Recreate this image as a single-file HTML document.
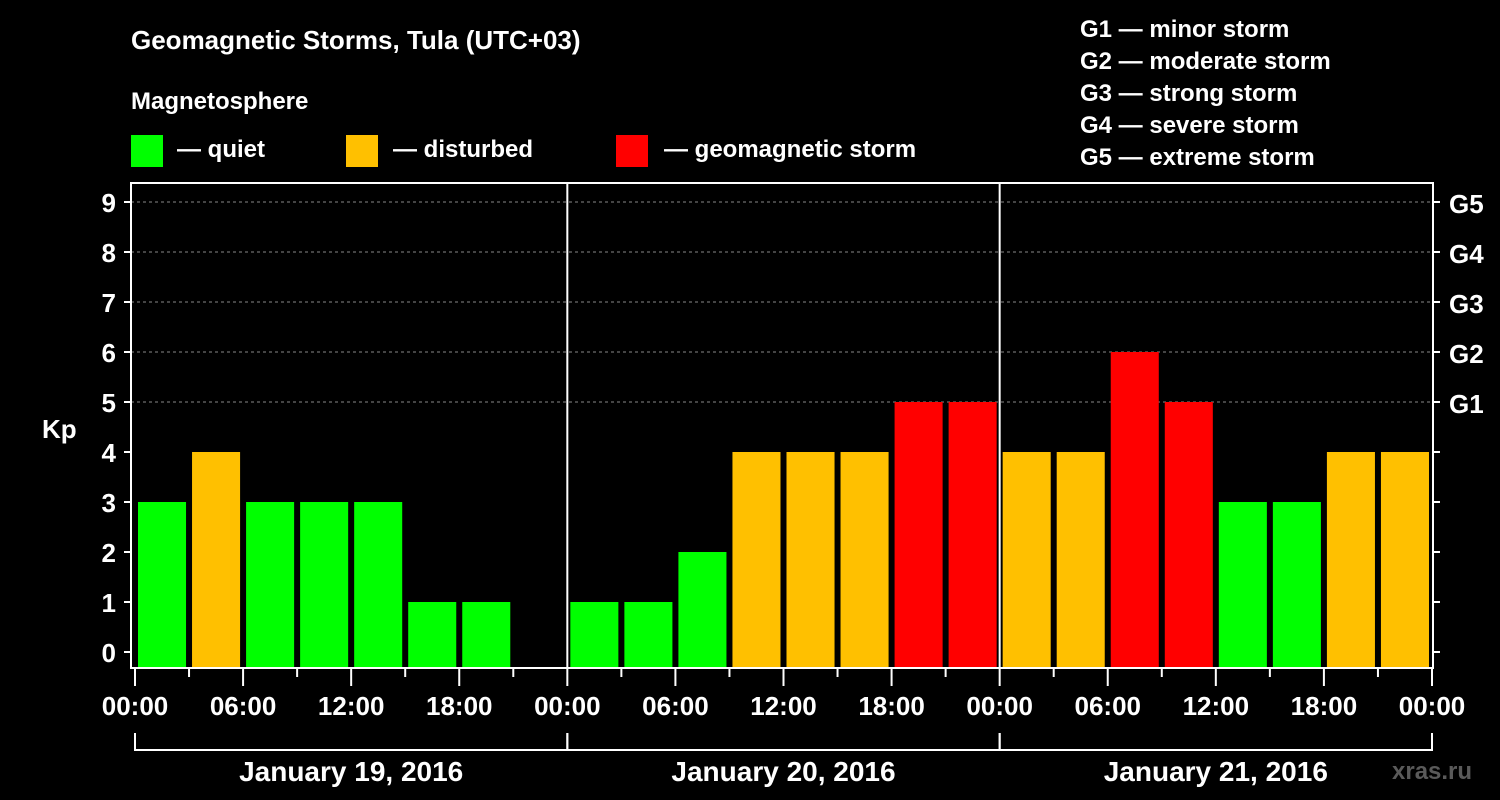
<!DOCTYPE html>
<html><head><meta charset="utf-8">
<style>
body{margin:0;background:#000;width:1500px;height:800px;overflow:hidden}
svg{display:block}
text{font-family:"Liberation Sans",Arial,sans-serif;font-weight:bold;fill:#fff}
</style></head>
<body>
<svg id="chart" width="1500" height="800" viewBox="0 0 1500 800">
<rect width="1500" height="800" fill="#000"/>
<text x="131" y="49" font-size="26">Geomagnetic Storms, Tula (UTC+03)</text>
<text x="131" y="109" font-size="24">Magnetosphere</text>
<g><rect x="131" y="135" width="32" height="32" fill="#00ff00"/><text x="177" y="157" font-size="24">— quiet</text></g>
<g><rect x="346" y="135" width="32" height="32" fill="#ffc000"/><text x="393" y="157" font-size="24">— disturbed</text></g>
<g><rect x="616" y="135" width="32" height="32" fill="#ff0000"/><text x="664" y="157" font-size="24">— geomagnetic storm</text></g>
<g font-size="24">
<text x="1080" y="37">G1 — minor storm</text>
<text x="1080" y="69">G2 — moderate storm</text>
<text x="1080" y="101">G3 — strong storm</text>
<text x="1080" y="133">G4 — severe storm</text>
<text x="1080" y="165">G5 — extreme storm</text>
</g>
<text x="42" y="438" font-size="26">Kp</text>
<text x="1392" y="779" font-size="24" fill="#555" style="fill:#5a5a5a">xras.ru</text>
<g id="grid"></g><g id="bars"></g><g id="axes"></g>
</svg>
<script>
const days = ["January 19, 2016","January 20, 2016","January 21, 2016"];
const kpValues = [3,4,3,3,3,1,1,null, 1,1,2,4,4,4,5,5, 4,4,6,5,3,3,4,4];
const yTicks = [0,1,2,3,4,5,6,7,8,9];
const gLabels = ["G1","G2","G3","G4","G5"];
const hourLabels = ["00:00","06:00","12:00","18:00"];

const NS="http://www.w3.org/2000/svg";
const X0=135, DAYW=432.33, LEFT=131, RIGHT=1433, TOP=183, BOTTOM=668;
const xH=h=>X0+h*DAYW/24;
const yK=k=>652-50*k;
function mk(tag,attrs,parent){const e=document.createElementNS(NS,tag);for(const k in attrs)e.setAttribute(k,attrs[k]);document.getElementById(parent).appendChild(e);return e;}
function color(k){return k>=5?"#ff0000":k>=4?"#ffc000":"#00ff00";}

// grid for G levels
gLabels.forEach((g,i)=>{const y=yK(5+i);
 const l=mk("line",{x1:LEFT,x2:RIGHT,y1:y,y2:y,stroke:"#888","stroke-dasharray":"3,3","stroke-width":1},"grid");
 
 
 const t=mk("text",{x:1449,y:y+11,"font-size":26},"axes");t.textContent=g;
 
 
});
// bars
kpValues.forEach((k,i)=>{if(k==null)return;
 const x=xH(i*3);const w=DAYW/8;
 const r=mk("rect",{x:x+3,y:yK(k),width:w-6,height:BOTTOM-yK(k),fill:color(k)},"bars");
 
 
});
// frame
const f=mk("rect",{x:LEFT,y:TOP,width:RIGHT-LEFT,height:BOTTOM-TOP,fill:"none",stroke:"#fff","stroke-width":2},"axes");


// day separators
for(let d=1;d<days.length;d++){const x=xH(24*d);
 const l=mk("line",{x1:x,x2:x,y1:TOP,y2:BOTTOM,stroke:"#fff","stroke-width":2},"axes");
 
 }
// y ticks
yTicks.forEach(k=>{const y=yK(k);
 mk("line",{x1:124,x2:LEFT,y1:y,y2:y,stroke:"#fff","stroke-width":2},"axes");
 mk("line",{x1:RIGHT,x2:RIGHT+7,y1:y,y2:y,stroke:"#fff","stroke-width":2},"axes");
 const t=mk("text",{x:116,y:y+10,"font-size":26,"text-anchor":"end"},"axes");t.textContent=k;
 
 
});
// x ticks
for(let h=0;h<=24*days.length;h+=3){const x=xH(h);const major=h%6===0;
 mk("line",{x1:x,x2:x,y1:BOTTOM+1,y2:major?686:677,stroke:"#fff","stroke-width":2},"axes");
 if(major){const t=mk("text",{x:x,y:715,"font-size":26,"text-anchor":"middle"},"axes");t.textContent=hourLabels[(h%24)/6];
 
 }
}
// day brackets
days.forEach((d,i)=>{const a=xH(24*i),b=xH(24*(i+1));
 mk("line",{x1:a,x2:b,y1:750,y2:750,stroke:"#fff","stroke-width":2},"axes");
 mk("line",{x1:a,x2:a,y1:733,y2:751,stroke:"#fff","stroke-width":2},"axes");
 mk("line",{x1:b,x2:b,y1:733,y2:751,stroke:"#fff","stroke-width":2},"axes");
 const t=mk("text",{x:(a+b)/2,y:781,"font-size":28,"text-anchor":"middle"},"axes");t.textContent=d;
 
 
});
</script>
</body></html>
